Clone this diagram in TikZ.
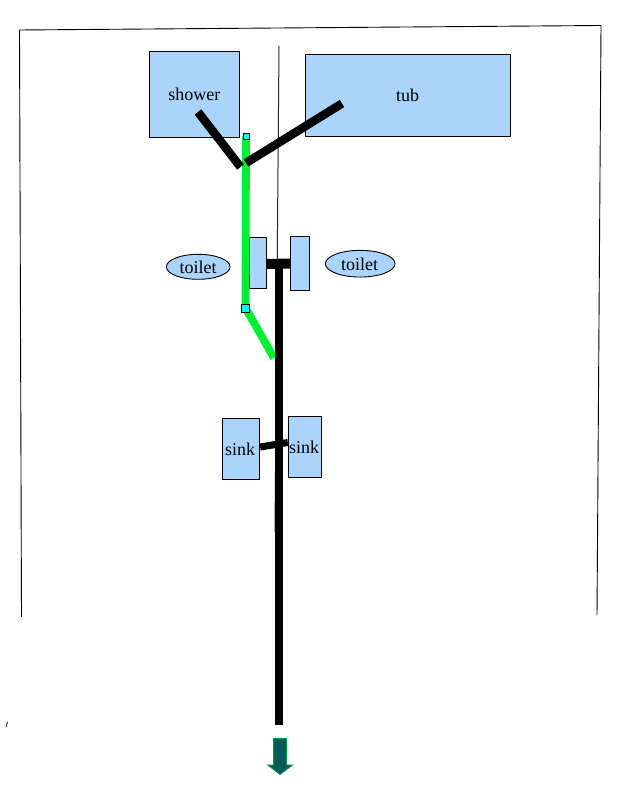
\documentclass[tikz,border=0pt]{standalone}
\usepackage{fontspec}
\setmainfont{Liberation Serif}
\usetikzlibrary{shapes.geometric}
\definecolor{boxblue}{HTML}{AAD4FC}
\definecolor{pipegreen}{HTML}{00EE33}
\definecolor{handlecyan}{HTML}{19F0F5}
\definecolor{arrowteal}{HTML}{005A5A}
\definecolor{arrowedge}{HTML}{009933}
\tikzset{
  x=1pt,y=-1pt,
  fixture/.style={draw=black,fill=boxblue,line width=0.9pt,inner sep=0pt,font=\fontsize{18}{20}\selectfont,text=black,text height=13pt,text depth=0pt},
  fixbox/.style={fixture,rectangle},
  fixoval/.style={fixture,ellipse},
  pipeline/.style={draw=black,line width=8.5pt},
  greenpipe/.style={draw=pipegreen,line width=7.8pt},
  handle/.style={draw=black,fill=handlecyan,line width=0.8pt,rectangle,inner sep=0pt},
  thinline/.style={draw=black,line width=0.9pt},
}
\begin{document}
\begin{tikzpicture}
\useasboundingbox (0,0) rectangle (617,791);
\fill[white] (0,0) rectangle (617,791);
% outer outline
\coordinate (fa) at (21.5,617);
\coordinate (fb) at (19.5,30);
\coordinate (fc) at (601,25.5);
\coordinate (fd) at (597,615);
\draw[thinline] (fa) -- (fb) -- (fc) -- (fd);
\coordinate (ta) at (279,46);
\coordinate (tb) at (275,532);
\draw[draw=black!85,line width=1pt] (ta) -- (tb);
\coordinate (ma) at (6,727);
\coordinate (mb) at (7.5,722);
\draw[draw=black!80,line width=1pt] (ma) -- (mb);
% fixtures
\node[fixbox,minimum width=90pt,minimum height=85.6pt] (shower) at (194.3,94.5) {shower};
\node[fixbox,minimum width=205pt,minimum height=82pt] (tub) at (407.5,95) {tub};
\node[fixbox,minimum width=17pt,minimum height=51pt] (tl) at (257.5,262.8) {};
\node[fixbox,minimum width=19.4pt,minimum height=54pt] (tr) at (300,263.3) {};
\node[fixoval,minimum width=63.7pt,minimum height=25pt] (ovl) at (198.2,266.8) {toilet};
\node[fixoval,minimum width=69.7pt,minimum height=26.7pt] (ovr) at (360.2,263.7) {\hspace*{-1pt}toilet};
\node[fixbox,minimum width=37.4pt,minimum height=61pt] (sl) at (241,448.8) {\hspace*{-2pt}sink};
\node[fixbox,minimum width=33.4pt,minimum height=61pt] (sr) at (305,446.8) {\hspace*{-2pt}sink};
% green pipe
\node[handle,minimum size=6pt] (h1) at (246,136) {};
\node[handle,minimum size=8pt] (h2) at (245.5,308) {};
\coordinate (g3) at (274,358);
\draw[greenpipe] (h1.center) -- (h2.center) -- (g3);
\node[handle,minimum size=6pt] at (h1) {};
\node[handle,minimum size=8pt] at (h2) {};
% black pipes
\coordinate (sp1) at (198,112);
\coordinate (sp2) at (240.5,167);
\draw[pipeline] (sp1) -- (sp2);
\coordinate (tp1) at (342,103.5);
\coordinate (tp2) at (246,163);
\draw[pipeline] (tp1) -- (tp2);
\coordinate (main1) at (279.3,264);
\coordinate (main2) at (279.3,725);
\draw[pipeline,line width=8pt] (main1) -- (main2);
\draw[pipeline,line width=10pt] (tl.east |- 0,264) -- (tr.west |- 0,263.5);
\draw[pipeline,line width=7pt] (sl.east |- 0,447) -- (sr.west |- 0,442.5);
% outlet arrow
\draw[draw=arrowedge,fill=arrowteal,line width=0.8pt,line join=miter]
  (273.6,738.5) -- (286.6,738.5) -- (286.6,765) -- (292.5,765) -- (280.1,774.5) -- (267.7,765) -- (273.6,765) -- cycle;
\end{tikzpicture}
\end{document}
